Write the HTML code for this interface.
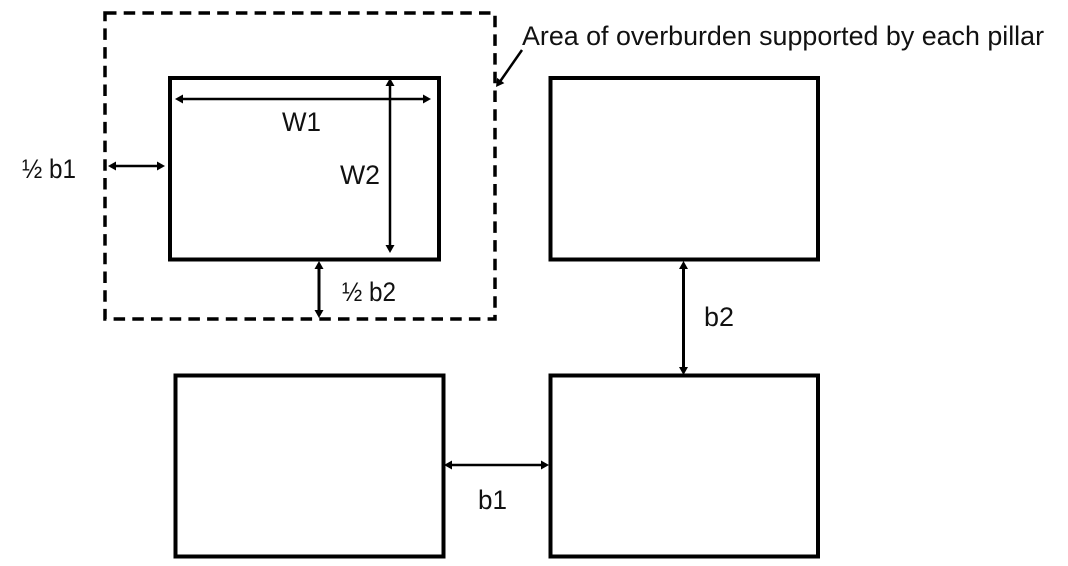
<!DOCTYPE html>
<html><head><meta charset="utf-8"><style>
html,body{margin:0;padding:0;background:#fff;width:1068px;height:566px;overflow:hidden}
svg{display:block}
text{font-family:"Liberation Sans",sans-serif;font-size:27px;fill:#111}
</style></head><body>
<svg width="1068" height="566" viewBox="0 0 1068 566" xmlns="http://www.w3.org/2000/svg">
<defs>
<g id="ar"><path d="M0 0L-8 -4.500L-8 4.500Z" fill="#000"/></g>
</defs>
<rect width="1068" height="566" fill="#fff"/>
<g fill="none" stroke="#000" stroke-width="4">
<rect x="170" y="78" width="269" height="181.500"/>
<rect x="550.500" y="78" width="267.500" height="181.500"/>
<rect x="175.500" y="375.500" width="268" height="181"/>
<rect x="550.500" y="375.500" width="267.500" height="181"/>
</g>
<rect x="105" y="13" width="390" height="306" fill="none" stroke="#000" stroke-width="3.500" stroke-dasharray="11.500 7.200"/>
<g stroke="#000" fill="none">
<path d="M180 99H426" stroke-width="2.500"/>
<path d="M390 84V248" stroke-width="2.500"/>
<path d="M113 166H160" stroke-width="2.500"/>
<path d="M319 267V312" stroke-width="3"/>
<path d="M683.500 266V370" stroke-width="3"/>
<path d="M449 465H544" stroke-width="2.500"/>
<path d="M522 50L499 83" stroke-width="2.500"/>
</g>
<use href="#ar" transform="translate(431,99)"/>
<use href="#ar" transform="translate(175,99) rotate(180)"/>
<use href="#ar" transform="translate(390,78) rotate(-90)"/>
<use href="#ar" transform="translate(390,253) rotate(90)"/>
<use href="#ar" transform="translate(165,166)"/>
<use href="#ar" transform="translate(108,166) rotate(180)"/>
<use href="#ar" transform="translate(319,261) rotate(-90)"/>
<use href="#ar" transform="translate(319,318) rotate(90)"/>
<use href="#ar" transform="translate(683.500,261) rotate(-90)"/>
<use href="#ar" transform="translate(683.500,375) rotate(90)"/>
<use href="#ar" transform="translate(444,465) rotate(180)"/>
<use href="#ar" transform="translate(549,465)"/>
<use href="#ar" transform="translate(496,87) rotate(126)"/>
<text x="522" y="45" textLength="522" lengthAdjust="spacingAndGlyphs">Area of overburden supported by each pillar</text>
<text x="282" y="131" textLength="39" lengthAdjust="spacingAndGlyphs">W1</text>
<text x="340" y="184" textLength="40" lengthAdjust="spacingAndGlyphs">W2</text>
<text x="22" y="178" textLength="54" lengthAdjust="spacingAndGlyphs">½ b1</text>
<text x="342" y="301" textLength="54" lengthAdjust="spacingAndGlyphs">½ b2</text>
<text x="704" y="326" textLength="30" lengthAdjust="spacingAndGlyphs">b2</text>
<text x="478" y="509" textLength="29" lengthAdjust="spacingAndGlyphs">b1</text>
</svg>
</body></html>
